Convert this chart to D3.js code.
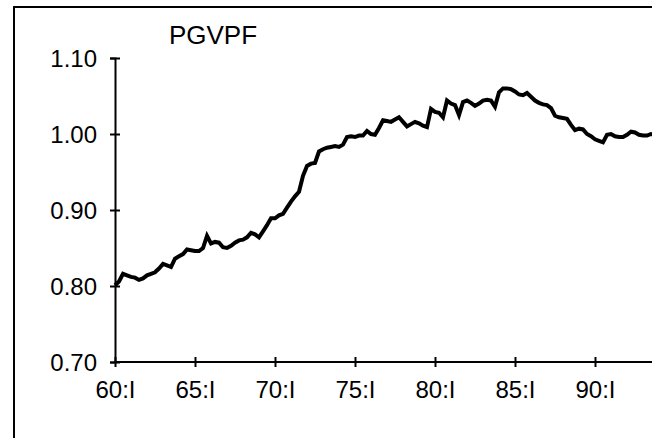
<!DOCTYPE html>
<html>
<head>
<meta charset="utf-8">
<script src="https://cdn.jsdelivr.net/npm/d3@7"></script>
<style>
  html, body { margin: 0; padding: 0; background: #fff; overflow: hidden; }
  svg { display: block; }
  text { font-family: "Liberation Sans", Arial, sans-serif; fill: #000; }
</style>
</head>
<body>
<svg id="chart" width="652" height="438"></svg>
<script>
// Quarterly series PGVPF, 1960:I onward
const startYear = 1960;
const values = [
  0.801, 0.806, 0.816, 0.814,   // 1960
  0.812, 0.811, 0.808, 0.810,   // 1961
  0.814, 0.816, 0.818, 0.823,   // 1962
  0.829, 0.827, 0.825, 0.836,   // 1963
  0.839, 0.842, 0.848, 0.847,   // 1964
  0.846, 0.846, 0.850, 0.866,   // 1965
  0.856, 0.858, 0.857, 0.851,   // 1966
  0.850, 0.853, 0.857, 0.860,   // 1967
  0.861, 0.864, 0.870, 0.868,   // 1968
  0.864, 0.872, 0.880, 0.889,   // 1969
  0.889, 0.893, 0.895, 0.903,   // 1970
  0.911, 0.918, 0.924, 0.945,   // 1971
  0.958, 0.961, 0.962, 0.977,   // 1972
  0.980, 0.982, 0.983, 0.984,   // 1973
  0.983, 0.986, 0.996, 0.997,   // 1974
  0.996, 0.998, 0.998, 1.004,   // 1975
  1.000, 0.999, 1.008, 1.018,   // 1976
  1.017, 1.016, 1.019, 1.022,   // 1977
  1.016, 1.010, 1.013, 1.016,   // 1978
  1.014, 1.011, 1.009, 1.033,   // 1979
  1.029, 1.028, 1.022, 1.044,   // 1980
  1.040, 1.038, 1.025, 1.042,   // 1981
  1.044, 1.041, 1.037, 1.040,   // 1982
  1.044, 1.045, 1.044, 1.036,   // 1983
  1.055, 1.060, 1.060, 1.059,   // 1984
  1.056, 1.052, 1.051, 1.054,   // 1985
  1.049, 1.044, 1.041, 1.039,   // 1986
  1.038, 1.034, 1.024, 1.022,   // 1987
  1.021, 1.020, 1.012, 1.005,   // 1988
  1.007, 1.006, 1.000, 0.997,   // 1989
  0.993, 0.991, 0.989, 0.999,   // 1990
  1.000, 0.997, 0.996, 0.996,   // 1991
  0.999, 1.003, 1.002, 0.999,   // 1992
  0.998, 0.998, 1.000, 0.999    // 1993
];
const xTickYears = [1960, 1965, 1970, 1975, 1980, 1985, 1990];
const xTickLabels = ["60:I", "65:I", "70:I", "75:I", "80:I", "85:I", "90:I"];
const yTicks = [0.70, 0.80, 0.90, 1.00, 1.10];
const title = "PGVPF";

const svg = d3.select("#chart");

// outer frame (extends beyond visible area on right and bottom)
svg.append("rect")
  .attr("x", 14).attr("y", 7)
  .attr("width", 720).attr("height", 520)
  .attr("fill", "none").attr("stroke", "#000").attr("stroke-width", 2);

const x = d3.scaleLinear().domain([1960, 1995]).range([115, 675]);
const y = d3.scaleLinear().domain([0.70, 1.10]).range([362, 58]);

// X axis
const xAxis = svg.append("g")
  .attr("transform", `translate(0,${y(0.70)})`)
  .call(d3.axisBottom(x).tickValues(xTickYears)
    .tickFormat((d, i) => xTickLabels[i]).tickSizeOuter(0).tickSize(5));
xAxis.select(".domain").attr("d", `M${x(1960)},0H700`).attr("stroke", "#000").attr("stroke-width", 2);
xAxis.selectAll(".tick line").attr("y1", -5).attr("y2", 5).attr("stroke", "#000").attr("stroke-width", 2);
xAxis.selectAll(".tick text").attr("y", 19).attr("dy", "0.71em")
  .style("font-size", "24px").style("font-family", "'Liberation Sans', Arial, sans-serif").attr("fill", "#000");

// Y axis
const yAxis = svg.append("g")
  .attr("transform", `translate(${x(1960)},0)`)
  .call(d3.axisLeft(y).tickValues(yTicks).tickFormat(d3.format(".2f")).tickSizeOuter(0).tickSize(5));
yAxis.select(".domain").attr("stroke", "#000").attr("stroke-width", 2);
yAxis.selectAll(".tick line").attr("x1", -5).attr("x2", 5).attr("stroke", "#000").attr("stroke-width", 2);
yAxis.selectAll(".tick text").attr("x", -18).attr("dy", "0.35em")
  .style("font-size", "24px").style("font-family", "'Liberation Sans', Arial, sans-serif").attr("fill", "#000");

// Title
svg.append("text")
  .attr("x", 213).attr("y", 44)
  .attr("text-anchor", "middle")
  .style("font-size", "26px")
  .text(title);

// Series line
const line = d3.line()
  .x((d, i) => x(startYear + i / 4))
  .y(d => y(d));
svg.append("path")
  .datum(values)
  .attr("d", line)
  .attr("fill", "none")
  .attr("stroke", "#000")
  .attr("stroke-width", 4)
  .attr("stroke-linejoin", "miter");
</script>
</body>
</html>
